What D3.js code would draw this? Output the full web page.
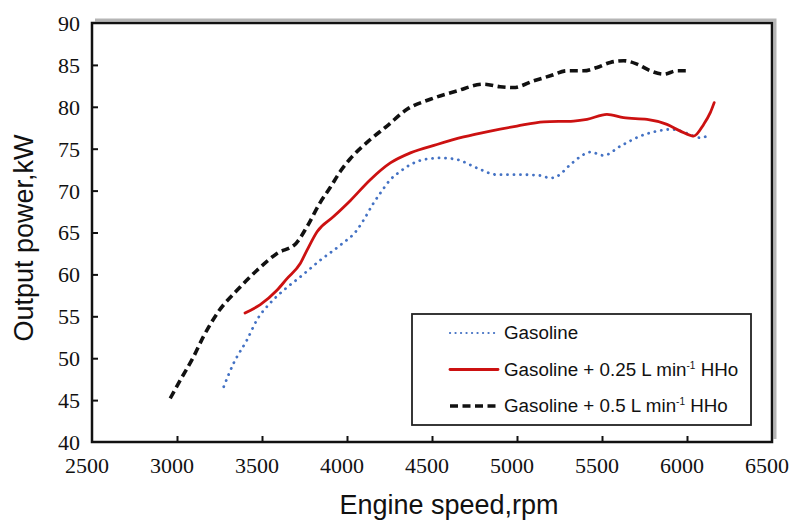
<!DOCTYPE html>
<html>
<head>
  <meta charset="utf-8">
  <title>Output power vs engine speed</title>
  <style>
    body { margin: 0; background: #fff; }
    svg { display: block; }
    .num { font-family: "Liberation Serif", "Times New Roman", Times, "DejaVu Serif", serif; font-size: 22px; fill: #111; }
    .title { font-family: "Liberation Sans", Arial, sans-serif; font-size: 27px; fill: #111; }
    .leg { font-family: "Liberation Sans", Arial, sans-serif; font-size: 18.8px; fill: #111; }
  </style>
  <script src="https://d3js.org/d3.v7.min.js"></script>
</head>
<body>
<div id="chart"></div>
<script>
  // values
  const xTicks = [2500, 3000, 3500, 4000, 4500, 5000, 5500, 6000, 6500];
  const yTicks = [40, 45, 50, 55, 60, 65, 70, 75, 80, 85, 90];

  const gasRpm = [3275, 3333, 3412, 3471, 3549, 3627, 3725, 3843, 3961, 4059, 4098, 4156, 4196, 4255, 4314, 4373, 4451, 4549, 4647, 4765, 4882, 5020, 5137, 5196, 5235, 5314, 5392, 5431, 5510, 5608, 5725, 5824, 5902, 5980, 6039, 6078, 6127];
  const gasKw  = [46.6, 49.4, 52.2, 54.6, 56.6, 58.1, 59.7, 61.7, 63.5, 65.3, 66.5, 68.5, 69.7, 71.3, 72.3, 73.1, 73.7, 73.9, 73.7, 72.7, 71.9, 71.9, 71.8, 71.5, 71.7, 73.1, 74.3, 74.6, 74.2, 75.3, 76.5, 77.1, 77.3, 77.0, 76.5, 76.3, 76.6];

  const h25Rpm = [3400, 3490, 3588, 3647, 3725, 3765, 3824, 3921, 4019, 4137, 4255, 4373, 4529, 4686, 4843, 5000, 5157, 5333, 5412, 5529, 5627, 5765, 5882, 5961, 6039, 6098, 6137, 6160];
  const h25Kw  = [55.4, 56.4, 58.1, 59.5, 61.3, 62.9, 65.1, 66.9, 68.8, 71.3, 73.3, 74.5, 75.5, 76.4, 77.1, 77.7, 78.2, 78.3, 78.5, 79.1, 78.7, 78.5, 77.9, 77.1, 76.5, 77.9, 79.3, 80.5];

  const h50Rpm = [2960, 3020, 3098, 3156, 3245, 3353, 3471, 3588, 3700, 3765, 3843, 3902, 3961, 4019, 4137, 4235, 4353, 4490, 4647, 4804, 4900, 4980, 5098, 5196, 5294, 5392, 5471, 5549, 5627, 5706, 5784, 5863, 5941, 6015];
  const h50Kw  = [45.2, 47.4, 50.2, 52.6, 55.6, 58.1, 60.5, 62.5, 63.7, 65.7, 68.6, 70.4, 72.3, 73.8, 76.1, 77.7, 79.7, 80.9, 81.9, 82.7, 82.4, 82.3, 83.1, 83.7, 84.3, 84.3, 84.7, 85.3, 85.5, 85.1, 84.3, 83.9, 84.3, 84.3];

  const seriesNames = ["Gasoline", "Gasoline + 0.25 L min", "Gasoline + 0.5 L min"];

  const series = [
    { name: seriesNames[0], x: gasRpm, y: gasKw, color: "#4472c4", width: 2.8, dash: "0.1 6.4", cap: "round", sup: false },
    { name: seriesNames[1], x: h25Rpm, y: h25Kw, color: "#cc1111", width: 2.8, dash: null, cap: "round", sup: true },
    { name: seriesNames[2], x: h50Rpm, y: h50Kw, color: "#111111", width: 3.6, dash: "8 4.5", cap: "butt", sup: true }
  ];

  const W = 796, H = 520;
  const pLeft = 92, pRight = 772, pTop = 23, pBottom = 442;

  const svg = d3.select("#chart").append("svg").attr("width", W).attr("height", H);

  const x = d3.scaleLinear().domain([2500, 6500]).range([pLeft, pRight]);
  const y = d3.scaleLinear().domain([40, 90]).range([pBottom, pTop]);

  // frame shadow + frame
  svg.append("path")
    .attr("d", `M${pLeft + 3},${pTop - 3}H${pRight + 3}V${pBottom - 3}`)
    .attr("fill", "none").attr("stroke", "#b5b5b5").attr("stroke-width", 3);
  svg.append("rect")
    .attr("x", pLeft).attr("y", pTop).attr("width", pRight - pLeft).attr("height", pBottom - pTop)
    .attr("fill", "none").attr("stroke", "#111").attr("stroke-width", 2.5);

  const xAxis = svg.append("g")
    .attr("transform", `translate(0,${pBottom})`)
    .call(d3.axisBottom(x).tickValues(xTicks.slice(1, -1)).tickSizeInner(-6).tickSizeOuter(0));
  xAxis.select(".domain").remove();
  xAxis.selectAll(".tick line").attr("stroke", "#111").attr("stroke-width", 2);
  xAxis.selectAll(".tick text").remove();

  // labels for every x tick value (incl. the ends which have no tick mark)
  svg.append("g").selectAll("text").data(xTicks).join("text")
    .attr("class", "num")
    .attr("x", d => x(d) - 5).attr("y", pBottom + 31)
    .attr("text-anchor", "middle")
    .text(d => d);

  const yAxis = svg.append("g")
    .attr("transform", `translate(${pLeft},0)`)
    .call(d3.axisLeft(y).tickValues(yTicks).tickSizeInner(-6).tickSizeOuter(0).tickPadding(12));
  yAxis.attr("font-family", null).attr("font-size", null);
  yAxis.select(".domain").remove();
  yAxis.selectAll(".tick line").attr("stroke", "#111").attr("stroke-width", 2)
    .filter(d => d === 40 || d === 90).remove();
  yAxis.selectAll(".tick text").attr("class", "num").attr("fill", null).attr("dy", "0.34em");

  // curves
  const line = d3.line()
    .x(d => x(d[0]))
    .y(d => y(d[1]))
    .curve(d3.curveMonotoneX);

  series.forEach(s => {
    const pts = s.x.map((v, i) => [v, s.y[i]]);
    svg.append("path")
      .datum(pts)
      .attr("fill", "none")
      .attr("stroke", s.color)
      .attr("stroke-width", s.width)
      .attr("stroke-linecap", s.cap)
      .attr("stroke-linejoin", "round")
      .attr("stroke-dasharray", s.dash)
      .attr("d", line);
  });

  // legend
  const lg = svg.append("g");
  lg.append("rect")
    .attr("x", 412).attr("y", 314).attr("width", 339).attr("height", 111)
    .attr("fill", "#fff").attr("stroke", "#222").attr("stroke-width", 1.8);

  series.forEach((s, i) => {
    const ly = 333 + i * 36.5;
    lg.append("line")
      .attr("x1", 450).attr("x2", 498).attr("y1", ly).attr("y2", ly)
      .attr("stroke", s.color)
      .attr("stroke-width", i === 0 ? 2.2 : s.width)
      .attr("stroke-linecap", s.cap)
      .attr("stroke-dasharray", i === 0 ? "0.1 5.4" : s.dash);
    const t = lg.append("text").attr("class", "leg")
      .attr("x", 504).attr("y", ly + 6);
    t.append("tspan").text(s.name);
    if (s.sup) {
      t.append("tspan").attr("dy", -7).style("font-size", "10px").text("-1");
      t.append("tspan").attr("dy", 7).text(" HHo");
    }
  });

  // axis titles
  svg.append("text").attr("class", "title")
    .attr("x", 449).attr("y", 514)
    .attr("text-anchor", "middle")
    .text("Engine speed,rpm");

  svg.append("text").attr("class", "title")
    .attr("transform", "translate(33,238) rotate(-90)")
    .attr("text-anchor", "middle")
    .text("Output power,kW");
</script>
</body>
</html>
